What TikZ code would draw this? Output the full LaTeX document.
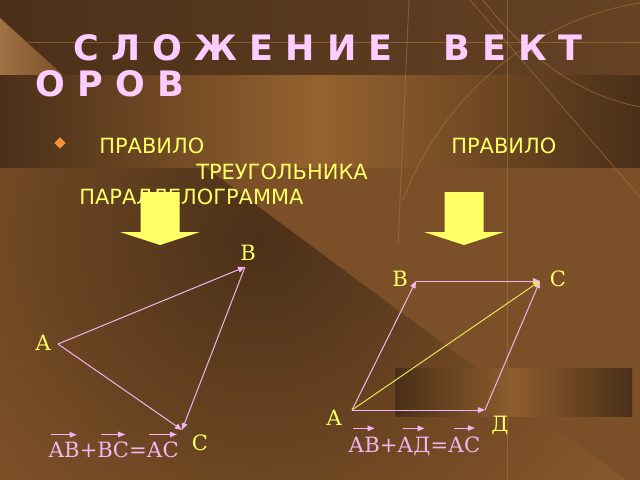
\documentclass[tikz,border=0pt]{standalone}
\usepackage{fontspec}
\usepackage{amsmath}
\usetikzlibrary{arrows.meta,shapes.geometric}
\setmainfont{DejaVu Serif}
\newfontfamily\headfont{DejaVu Sans}
\definecolor{bgbase}{HTML}{7B4F28}
\definecolor{bglight}{HTML}{8D5B2D}
\definecolor{bgdark}{HTML}{4B3018}
\definecolor{topleft}{HTML}{4B3019}
\definecolor{topright}{HTML}{654224}
\definecolor{bandend}{HTML}{4A2F18}
\definecolor{bandmid}{HTML}{95622F}
\definecolor{decoline}{HTML}{A8763F}
\definecolor{titlepink}{HTML}{FFCCFF}
\definecolor{ruleyellow}{HTML}{FFFF66}
\definecolor{vecpink}{HTML}{F2B6EE}
\definecolor{diagyellow}{HTML}{E6E65C}
\definecolor{bulletorange}{HTML}{F7923A}
% vector sign: text, arrow length, extra gap
\newcommand\vecup[3]{$\overset{\hbox{\tikz{\path (0pt,-#3); \draw[vec] (0pt,0pt) -- (#2,0pt);}}}{\hbox{#1}}$}
\tikzset{
  deco/.style={draw=decoline,line width=0.6pt,opacity=0.6},
  titletext/.style={anchor=west,inner sep=0pt,text=titlepink,
    font=\headfont\bfseries\fontsize{24.9pt}{30pt}\selectfont},
  ruletext/.style={anchor=west,inner sep=0pt,text=ruleyellow,
    font=\headfont\fontsize{14.9pt}{18pt}\selectfont},
  ptlabel/.style={inner sep=0pt,text=ruleyellow,font=\fontsize{15pt}{18pt}\selectfont},
  formula/.style={anchor=base west,inner sep=0pt,text=vecpink,font=\fontsize{15pt}{18pt}\selectfont},
  vec/.style={->,>={Triangle[length=5pt,width=4pt]},vecpink,line width=0.7pt},
  diag/.style={->,>={Triangle[length=5pt,width=4pt]},diagyellow,line width=0.7pt}
}
\begin{document}
\begin{tikzpicture}[x=0.025cm,y=-0.025cm]
  \useasboundingbox (0,0) rectangle (640,480);
  % Background
  \fill[bgbase] (0,0) rectangle (640,480);
  \begin{scope}
    \clip (0,167) -- (205,167) -- (640,490) -- (0,490) -- cycle;
    \shade[inner color=bgdark,outer color=bglight] (-200,-220) rectangle (720,700);
  \end{scope}
  \shade[left color=topleft,right color=topright] (0,0) rectangle (640,75);
  \shade[left color=bandmid!90!white,right color=bgbase] (0,18) -- (63,75) -- (0,75) -- cycle;
  \shade[left color=bandend,right color=bandend,middle color=bandmid] (0,75) rectangle (640,167);

  % Decorative lines
  \draw[deco] (28,42) -- (640,42);
  \draw[deco] (507,0) -- (507,480);
  \draw[deco] (409,0) -- (398,245);
  \draw[deco] (470,0) -- (640,197);
  \draw[deco] (483,0) .. controls (530,60) and (580,95) .. (640,107);
  \draw[deco] (403,200) .. controls (440,100) and (530,20) .. (640,3);

  % Dark panel
  \shade[left color=bandend,right color=bandend,middle color=bandmid!95!black] (395,368) rectangle (632,416);

  % Title
  \node[titletext] (title1) at (73,48) {С Л О Ж Е Н И Е\hspace{1.45em}В Е К Т};
  \node[titletext] (title2) at (35,84) {О Р О В};

  % Rules
  \node[diamond,fill=bulletorange,inner sep=0pt,minimum width=8pt,minimum height=8pt] (dot) at (60,143) {};
  \node[ruletext] (ruleL) at (99,146) {ПРАВИЛО};
  \node[ruletext] (ruleR) at (451,146) {ПРАВИЛО};
  \node[ruletext] (triname) at (196,172) {ТРЕУГОЛЬНИКА};
  \node[ruletext] (parname) at (79,197) {ПАРАЛЛЕЛОГРАММА};

  % Block arrows
  \foreach \ax in {160,464} {
    \fill[ruleyellow] ({\ax-19.5},192) -- ({\ax+19.5},192) -- ({\ax+19.5},232) -- ({\ax+40},232)
      -- (\ax,245) -- ({\ax-40},232) -- ({\ax-19.5},232) -- cycle;
  }

  % Triangle rule
  \coordinate (tA) at (58,344);
  \coordinate (tB) at (245,267);
  \coordinate (tC) at (182,430);
  \draw[vec] (tA) -- (tB);
  \draw[vec] (tB) -- (tC);
  \draw[vec] (tA) -- (tC);
  \node[ptlabel] (labtA) at (43,343) {А};
  \node[ptlabel] (labtB) at (248,253) {В};
  \node[ptlabel] (labtC) at (200,443) {С};
  \node[formula] (sumT) at (48,457) {\vecup{АВ}{18pt}{0pt}+\vecup{ВС}{17pt}{0pt}=\vecup{АС}{20pt}{0pt}};

  % Parallelogram rule
  \coordinate (pA) at (352,410);
  \coordinate (pB) at (416,281);
  \coordinate (pC) at (540,281);
  \coordinate (pD) at (485,410);
  \draw[vec] (pA) -- (pB);
  \draw[vec] (pB) -- (pC);
  \draw[vec] (pA) -- (pD);
  \draw[vec] (pD) -- (pC);
  \draw[diag] (pA) -- (pC);
  \node[ptlabel] (labpA) at (334,418) {А};
  \node[ptlabel] (labpB) at (400,279) {В};
  \node[ptlabel] (labpC) at (558,279) {С};
  \node[ptlabel] (labpD) at (500,425) {Д};
  \node[formula] (sumP) at (348,452) {\vecup{АВ}{15pt}{3pt}+\vecup{АД}{15pt}{3pt}=\vecup{АС}{15pt}{3pt}};
\end{tikzpicture}
\end{document}
